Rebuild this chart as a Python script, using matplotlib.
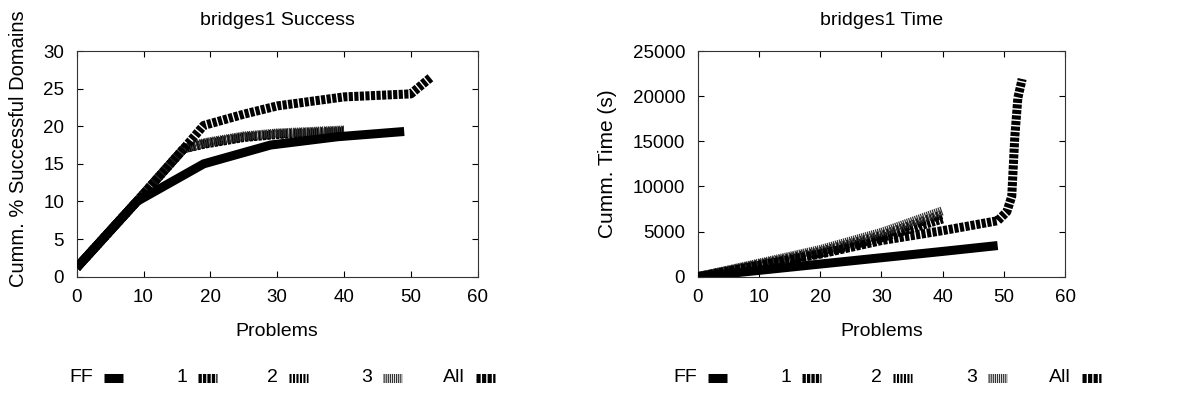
import numpy as np
import matplotlib.pyplot as plt
from matplotlib.lines import Line2D

plt.rcParams['font.family'] = ['Liberation Sans', 'DejaVu Sans']
plt.rcParams['lines.scale_dashes'] = False

# Legend labels (same order in both panels)
labels = ['FF', '1', '2', '3', 'All']

# Success panel: cumulative % successful domains
succ_x = {
    'FF':  [0, 9, 19, 29, 39, 49],
    '1':   [0, 9, 16, 19, 25, 30, 40],
    '2':   [0, 9, 16, 19, 25, 30, 40],
    '3':   [0, 9, 16, 19, 25, 30, 40],
    'All': [0, 9, 16, 19, 25, 30, 40, 50, 53],
}
succ_y = {
    'FF':  [1.2, 10.0, 15.0, 17.5, 18.6, 19.3],
    '1':   [1.2, 10.0, 17.0, 17.6, 18.5, 18.9, 19.3],
    '2':   [1.2, 10.0, 17.0, 17.7, 18.6, 19.0, 19.4],
    '3':   [1.2, 10.0, 17.0, 17.8, 18.7, 19.1, 19.5],
    'All': [1.2, 10.0, 17.0, 20.1, 21.6, 22.7, 23.9, 24.3, 26.5],
}

# Time panel: cumulative time in seconds
time_x = {
    'FF':  [0, 10, 20, 30, 40, 49],
    '1':   [0, 10, 20, 30, 40],
    '2':   [0, 10, 20, 30, 40],
    '3':   [0, 10, 20, 30, 40],
    'All': [0, 10, 20, 30, 40, 49, 50.5, 51.3, 51.8, 52.3, 53],
}
time_y = {
    'FF':  [0, 700, 1400, 2100, 2800, 3450],
    '1':   [0, 1300, 2600, 4300, 6400],
    '2':   [0, 1400, 2800, 4600, 6900],
    '3':   [0, 1500, 3000, 4900, 7300],
    'All': [0, 1250, 2500, 4000, 5100, 6200, 7200, 8900, 15500, 19800, 21900],
}

# line styles imitating the gnuplot patterns
LW = 6.5
styles = {
    'FF':  dict(color='black', linestyle='-'),
    '1':   dict(color='black', dashes=(2.4, 0.8)),
    '2':   dict(color='black', dashes=(1.5, 1.0)),
    '3':   dict(color='#333333', dashes=(0.9, 0.6)),
    'All': dict(color='black', dashes=(3.0, 1.0)),
}

W, H = 1177, 395
fig = plt.figure(figsize=(W / 100, H / 100), dpi=100)

ax1 = fig.add_axes([76.7 / W, 1 - 276.7 / H, 401 / W, 225.7 / H])
ax2 = fig.add_axes([697.7 / W, 1 - 276.7 / H, 367.3 / W, 225.7 / H])


def draw(ax, xs, ys):
    for lab in labels:
        z = 3 if lab == 'FF' else 2
        ax.plot(xs[lab], ys[lab], lw=LW, solid_capstyle='butt', zorder=z,
                dash_capstyle='butt', solid_joinstyle='miter', **styles[lab])


draw(ax1, succ_x, succ_y)
draw(ax2, time_x, time_y)

ax1.set_ylim(0, 30)
ax1.set_yticks(range(0, 31, 5))
ax2.set_ylim(0, 25000)
ax2.set_yticks(range(0, 25001, 5000))

for ax in (ax1, ax2):
    ax.set_xlim(0, 60)
    ax.set_xticks(range(0, 61, 10))
    ax.tick_params(direction='in', top=True, right=True, length=4,
                   width=0.8, labelsize=13.5, pad=9)
    for sp in ax.spines.values():
        sp.set_linewidth(0.8)
        sp.set_color('#333333')
    ax.set_xlabel('Problems', fontsize=14, labelpad=12)

ax1.set_title('bridges1 Success', fontsize=14, pad=19)
ax2.set_title('bridges1 Time', fontsize=14, pad=19)
ax1.set_ylabel('Cumm. % Successful Domains', fontsize=14.5)
ax2.set_ylabel('Cumm. Time (s)', fontsize=15)
ax1.yaxis.set_label_coords((28 - 76.7) / 401, (276.7 - 149) / 225.7)
ax2.yaxis.set_label_coords((617 - 697.7) / 367.3, 0.5)

# manual legends below each panel (label right-aligned before the sample)
leg_y = 1 - 378 / H
for starts in ([104, 198, 289, 383, 476], [708, 802, 893, 988, 1082]):
    for lab, x0 in zip(labels, starts):
        fig.text((x0 - 11) / W, leg_y, lab, ha='right', va='center',
                 fontsize=14)
        fig.add_artist(Line2D([x0 / W, (x0 + 19) / W], [leg_y, leg_y],
                              transform=fig.transFigure, lw=LW,
                              solid_capstyle='butt', dash_capstyle='butt',
                              **styles[lab]))

fig.savefig('out.png', dpi=100)
